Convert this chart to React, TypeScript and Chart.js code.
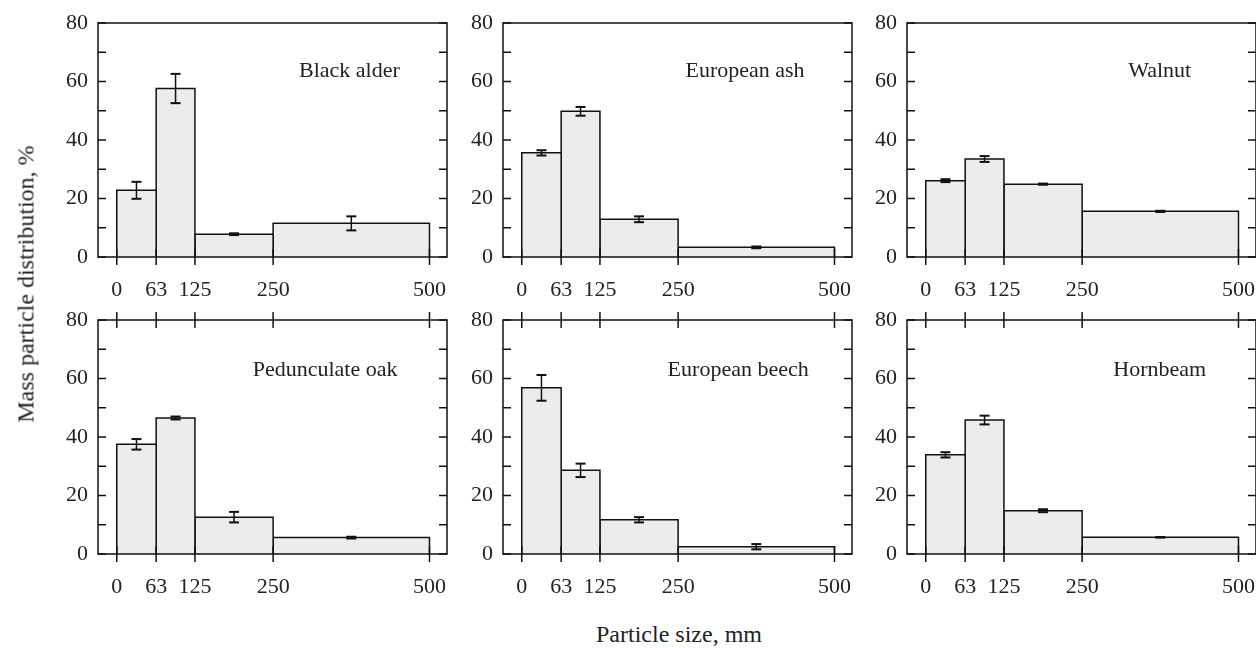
import React, { useEffect, useRef } from 'react';
import { Chart, registerables } from 'chart.js';
Chart.register(...registerables);

// ---- data ----
const binEdges = [0, 63, 125, 250, 500];
const xTickValues = [0, 63, 125, 250, 500];
const yTickValues = [0, 20, 40, 60, 80];
const panelNames = ['Black alder', 'European ash', 'Walnut', 'Pedunculate oak', 'European beech', 'Hornbeam'];

const blackAlder = [22.8, 57.6, 7.8, 11.5];
const blackAlderErr = [2.9, 5.0, 0.3, 2.4];
const europeanAsh = [35.6, 49.8, 12.9, 3.3];
const europeanAshErr = [0.9, 1.5, 1.0, 0.3];
const walnut = [26.1, 33.5, 24.9, 15.6];
const walnutErr = [0.5, 1.0, 0.2, 0.2];
const pedunculateOak = [37.5, 46.5, 12.6, 5.6];
const pedunculateOakErr = [1.8, 0.5, 1.8, 0.3];
const europeanBeech = [56.8, 28.6, 11.7, 2.5];
const europeanBeechErr = [4.4, 2.3, 0.9, 0.9];
const hornbeam = [33.9, 45.8, 14.8, 5.7];
const hornbeamErr = [0.9, 1.5, 0.5, 0.1];

const seriesValues = [blackAlder, europeanAsh, walnut, pedunculateOak, europeanBeech, hornbeam];
const seriesErrors = [blackAlderErr, europeanAshErr, walnutErr, pedunculateOakErr, europeanBeechErr, hornbeamErr];

// ---- layout ----
const labelAnchors = [
  [372, 63.5], [357, 63.5], [374, 63.5],
  [333, 63], [346, 63], [374, 63],
];
const PLOT_W = 349;
const PLOT_H = 234;
const LEFTS = [98, 503, 907];
const TOPS = [23, 320];
const PAD_L = 70;
const PAD_T = 16;
const PAD_R = 12;
const PAD_B = 50;
const FONT = '"Liberation Serif", "Times New Roman", serif';
const INK = '#111';
const TEXT = '#222';
const FILL = '#ececec';

const framePlugin = {
  id: 'frame',
  afterDatasetsDraw(chart: any, _args: any, opts: any) {
    const { ctx, chartArea, scales } = chart;
    const { left, right, top, bottom } = chartArea;
    const x = scales.x;
    const y = scales.y;
    ctx.save();
    ctx.strokeStyle = INK;
    ctx.lineWidth = 1.5;
    const line = (a: number, b: number, c: number, d: number) => {
      ctx.beginPath();
      ctx.moveTo(a, b);
      ctx.lineTo(c, d);
      ctx.stroke();
    };
    ctx.strokeRect(left, top, right - left, bottom - top);
    for (let v = 0; v <= 80; v += 10) {
      const py = y.getPixelForValue(v);
      line(left, py, left + 8, py);
      line(right - 8, py, right, py);
    }
    for (const v of xTickValues) {
      const px = x.getPixelForValue(v);
      line(px, bottom - 8, px, bottom + 8);
      if (opts.topTicks) line(px, top - 8, px, top + 8);
    }
    ctx.font = '22px ' + FONT;
    ctx.fillStyle = TEXT;
    ctx.textAlign = 'center';
    ctx.textBaseline = 'middle';
    ctx.fillText(opts.label, x.getPixelForValue(opts.lx), y.getPixelForValue(opts.ly));
    ctx.restore();
  },
};

function buildDatasets(values: number[], errs: number[]) {
  const ds: any[] = [];
  values.forEach((v, i) => {
    const x0 = binEdges[i];
    const x1 = binEdges[i + 1];
    ds.push({
      data: [{ x: x0, y: 0 }, { x: x0, y: v }, { x: x1, y: v }, { x: x1, y: 0 }],
      showLine: true,
      fill: 'origin',
      backgroundColor: FILL,
      borderColor: INK,
      borderWidth: 1.5,
      pointRadius: 0,
      order: 2,
    });
  });
  values.forEach((v, i) => {
    const mid = (binEdges[i] + binEdges[i + 1]) / 2;
    const e = errs[i];
    ds.push({
      data: [{ x: mid, y: v - e }, { x: mid, y: v + e }],
      showLine: true,
      fill: false,
      borderColor: INK,
      borderWidth: 1.5,
      pointStyle: 'line',
      pointRadius: 5,
      pointBorderWidth: 2,
      pointBorderColor: INK,
      pointBackgroundColor: INK,
      order: 0,
    });
  });
  return ds;
}

function Panel({ idx }: { idx: number }) {
  const ref = useRef<HTMLCanvasElement>(null);
  const row = Math.floor(idx / 3);
  const col = idx % 3;
  const W = PAD_L + PLOT_W + PAD_R;
  const H = PAD_T + PLOT_H + PAD_B;
  useEffect(() => {
    if (!ref.current) return;
    const chart = new Chart(ref.current, {
      type: 'scatter',
      data: { datasets: buildDatasets(seriesValues[idx], seriesErrors[idx]) },
      options: {
        animation: false,
        responsive: false,
        events: [],
        layout: { padding: { left: 0, top: PAD_T, right: PAD_R, bottom: 0 } },
        plugins: {
          legend: { display: false },
          tooltip: { enabled: false },
          frame: {
            label: panelNames[idx],
            lx: labelAnchors[idx][0],
            ly: labelAnchors[idx][1],
            topTicks: row === 1,
          },
        } as any,
        scales: {
          x: {
            type: 'linear',
            min: -30,
            max: 528,
            grid: { display: false, drawTicks: false },
            border: { display: false },
            afterBuildTicks: (s: any) => {
              s.ticks = xTickValues.map((v) => ({ value: v }));
            },
            afterFit: (s: any) => {
              s.height = PAD_B;
              s.paddingLeft = 0;
              s.paddingRight = 0;
              s.paddingTop = 0;
              s.paddingBottom = 0;
            },
            ticks: {
              autoSkip: false,
              maxRotation: 0,
              padding: 20,
              color: TEXT,
              font: { family: FONT, size: 22 },
              callback: (v: any) => String(v),
            },
          },
          y: {
            type: 'linear',
            min: 0,
            max: 80,
            grid: { display: false, drawTicks: false },
            border: { display: false },
            afterBuildTicks: (s: any) => {
              s.ticks = yTickValues.map((v) => ({ value: v }));
            },
            afterFit: (s: any) => {
              s.width = PAD_L;
              s.paddingLeft = 0;
              s.paddingRight = 0;
              s.paddingTop = 0;
              s.paddingBottom = 0;
            },
            ticks: {
              padding: 10,
              color: TEXT,
              font: { family: FONT, size: 22 },
              callback: (v: any) => String(v),
            },
          },
        },
      },
      plugins: [framePlugin],
    });
    return () => chart.destroy();
  }, [idx]);
  return (
    <canvas
      ref={ref}
      width={W}
      height={H}
      style={{
        position: 'absolute',
        left: LEFTS[col] - PAD_L,
        top: TOPS[row] - PAD_T,
        width: W,
        height: H,
      }}
    />
  );
}

export default function App() {
  return (
    <div
      style={{
        position: 'absolute',
        left: 0,
        top: 0,
        width: 1256,
        height: 648,
        overflow: 'hidden',
        background: '#fff',
        fontFamily: FONT,
        color: TEXT,
      }}
    >
      {[0, 1, 2, 3, 4, 5].map((i) => (
        <Panel key={i} idx={i} />
      ))}
      <div
        style={{
          position: 'absolute',
          left: 679,
          top: 634,
          transform: 'translate(-50%, -50%)',
          fontSize: 24,
          whiteSpace: 'nowrap',
        }}
      >
        Particle size, mm
      </div>
      <div
        style={{
          position: 'absolute',
          left: 26,
          top: 284,
          transform: 'translate(-50%, -50%) rotate(-90deg)',
          fontSize: 24,
          whiteSpace: 'nowrap',
        }}
      >
        Mass particle distribution, %
      </div>
    </div>
  );
}
